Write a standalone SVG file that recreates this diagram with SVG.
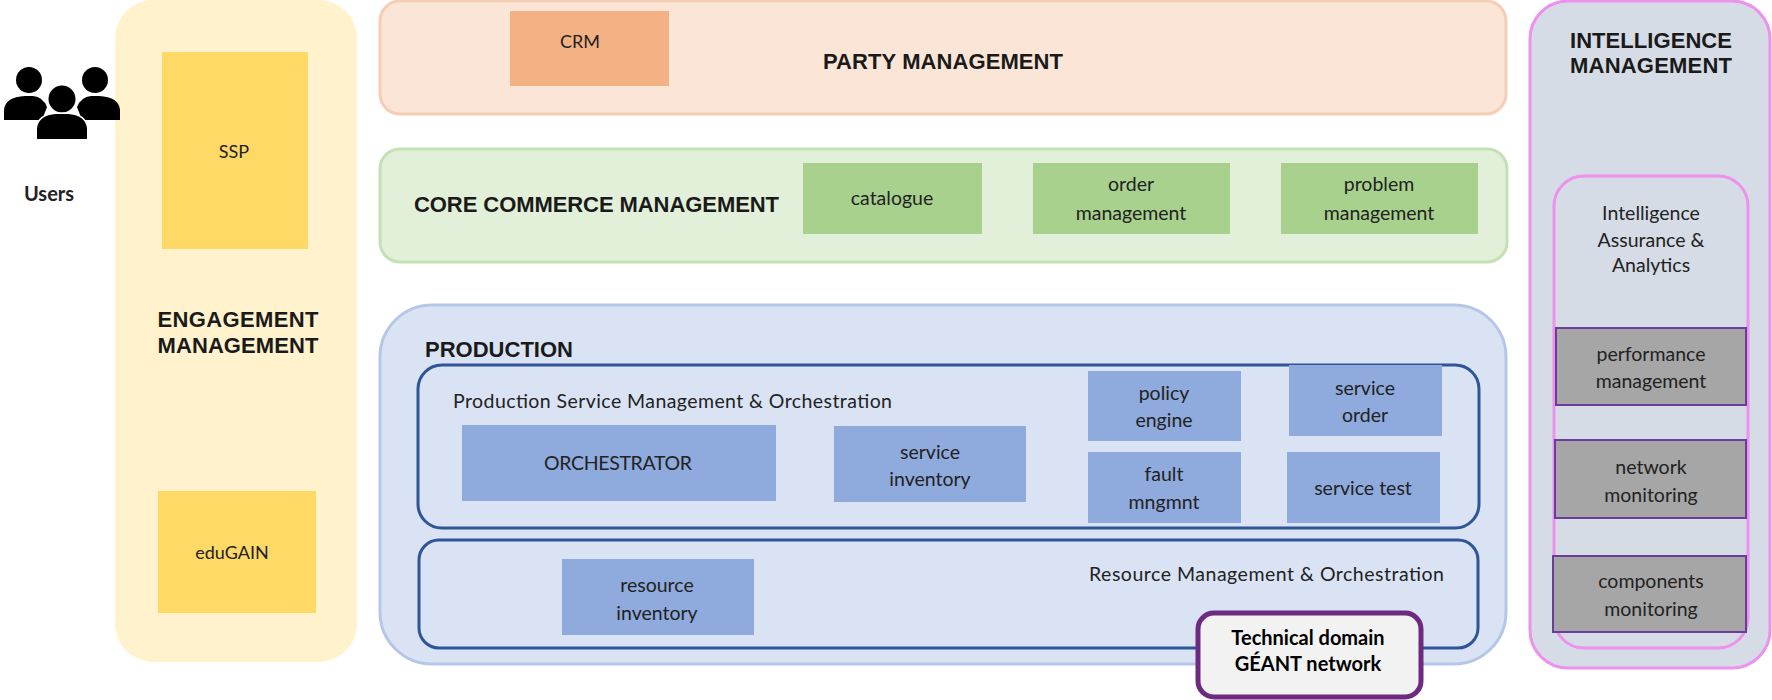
<svg xmlns="http://www.w3.org/2000/svg" width="1772" height="700" viewBox="0 0 1772 700">
<style>
.h{font-family:"Liberation Sans",Arial,sans-serif;font-weight:700;font-size:22px;fill:#1a1a1a}
.t{font-family:Lato,"Open Sans",sans-serif;font-size:19.5px;fill:#222;text-anchor:middle}
.s{font-size:18px}
.m{text-anchor:middle}
.panel{stroke-width:3}
.blue{fill:#8FAADC}
.green{fill:#A9D18E}
.grey{fill:#A6A6A6;stroke:#6A3D9A;stroke-width:2}
.inner{fill:none;stroke:#2F5597;stroke-width:3}
</style>
<rect width="1772" height="700" fill="#fff"/>
<g id="engagement">
<rect x="115" y="0" width="242" height="662" rx="38" fill="#FFF2CC"/>
<text class="h m" x="238" y="327" textLength="161">ENGAGEMENT</text><text class="h m" x="238" y="353" textLength="161">MANAGEMENT</text>
</g>
<g id="users">
<g fill="#000"><circle cx="29" cy="80" r="13"/><circle cx="95" cy="80" r="13"/>
<path d="M4 120V110Q5 97 25 96H33Q43 97 47 107L42 120Z"/>
<path d="M120 120V110Q119 97 99 96H91Q81 97 77 107L82 120Z"/>
<g stroke="#fff" stroke-width="3" paint-order="stroke"><circle cx="62" cy="99" r="13.5"/>
<path d="M37 139V128Q39 115 56 114H68Q85 115 87 128V139Z"/></g></g>
<text class="t" x="49" y="201" style="font-size:20px;font-weight:700">Users</text>
</g>
<g id="ssp"><rect x="162" y="52" width="146" height="197" fill="#FFD966"/><text class="t s" x="234" y="158">SSP</text></g>
<g id="edugain"><rect x="158" y="491" width="158" height="122" fill="#FFD966"/><text class="t s" x="232" y="559">eduGAIN</text></g>
<g id="party">
<rect class="panel" x="380" y="1" width="1126" height="113" rx="20" fill="#FBE5D6" stroke="#F4CFB6"/>
<text class="h" x="823" y="69" textLength="240">PARTY MANAGEMENT</text>
</g>
<g id="crm"><rect x="510" y="11" width="159" height="75" fill="#F4B183"/><text class="t s" x="580" y="48">CRM</text></g>
<g id="core">
<rect class="panel" x="380" y="149" width="1127" height="113" rx="20" fill="#E2F0D9" stroke="#C5E0B4"/>
<text class="h" x="414" y="212" textLength="365">CORE COMMERCE MANAGEMENT</text>
</g>
<g id="catalogue"><rect class="green" x="803" y="163" width="179" height="71"/><text class="t" x="892" y="205">catalogue</text></g>
<g id="order"><rect class="green" x="1033" y="163" width="197" height="71"/><text class="t" x="1131" y="191">order</text><text class="t" x="1131" y="220">management</text></g>
<g id="problem"><rect class="green" x="1281" y="163" width="197" height="71"/><text class="t" x="1379" y="191">problem</text><text class="t" x="1379" y="220">management</text></g>
<g id="production">
<rect class="panel" x="380" y="305" width="1126" height="359" rx="52" fill="#DAE3F3" stroke="#B4C7E7"/>
<text class="h" x="425" y="357" textLength="148">PRODUCTION</text>
</g>
<g id="service-management">
<rect class="inner" x="418" y="365" width="1061" height="163" rx="24"/>
<text class="t" x="453" y="408" textLength="439" style="text-anchor:start">Production Service Management &amp; Orchestration</text>
</g>
<g id="resource-management">
<rect class="inner" x="419" y="540" width="1059" height="108" rx="20"/>
<text class="t" x="1089" y="581" textLength="355" style="text-anchor:start">Resource Management &amp; Orchestration</text>
</g>
<g id="orchestrator"><rect class="blue" x="462" y="425" width="314" height="76"/><text class="t" x="618" y="470" textLength="148">ORCHESTRATOR</text></g>
<g id="service-inventory"><rect class="blue" x="834" y="426" width="192" height="76"/><text class="t" x="930" y="459">service</text><text class="t" x="930" y="486">inventory</text></g>
<g id="policy-engine"><rect class="blue" x="1088" y="371" width="153" height="70"/><text class="t" x="1164" y="400">policy</text><text class="t" x="1164" y="427">engine</text></g>
<g id="service-order"><rect class="blue" x="1289" y="365" width="153" height="71"/><text class="t" x="1365" y="395">service</text><text class="t" x="1365" y="422">order</text></g>
<g id="fault"><rect class="blue" x="1088" y="452" width="153" height="71"/><text class="t" x="1164" y="481">fault</text><text class="t" x="1164" y="509">mngmnt</text></g>
<g id="service-test"><rect class="blue" x="1287" y="452" width="153" height="71"/><text class="t" x="1363" y="495">service test</text></g>
<g id="resource-inventory"><rect class="blue" x="562" y="559" width="192" height="76"/><text class="t" x="657" y="592">resource</text><text class="t" x="657" y="620">inventory</text></g>
<g id="technical-domain">
<rect x="1198" y="613" width="223" height="84" rx="16" fill="#F2F2F2" stroke="#6E2A80" stroke-width="5"/>
<text class="t" x="1308" y="645" style="font-weight:700;font-size:20px;fill:#000">Technical domain</text>
<text class="t" x="1308" y="671" style="font-weight:700;font-size:20px;fill:#000">GÉANT network</text>
</g>
<g id="intelligence">
<rect class="panel" x="1530" y="1" width="240" height="667" rx="38" fill="#D6DCE5" stroke="#EE90EE"/>
<text class="h m" x="1651" y="48" textLength="162">INTELLIGENCE</text><text class="h m" x="1651" y="73" textLength="162">MANAGEMENT</text>
</g>
<g id="assurance">
<rect class="panel" x="1554" y="176" width="194" height="472" rx="30" fill="#D6DCE5" stroke="#EE90EE"/>
<text class="t" x="1651" y="220">Intelligence</text><text class="t" x="1651" y="247">Assurance &amp;</text><text class="t" x="1651" y="272">Analytics</text>
</g>
<g id="performance"><rect class="grey" x="1556" y="328" width="190" height="77"/><text class="t" x="1651" y="361">performance</text><text class="t" x="1651" y="388">management</text></g>
<g id="network"><rect class="grey" x="1555" y="440" width="191" height="78"/><text class="t" x="1651" y="474">network</text><text class="t" x="1651" y="502">monitoring</text></g>
<g id="components"><rect class="grey" x="1553" y="556" width="193" height="76"/><text class="t" x="1651" y="588">components</text><text class="t" x="1651" y="616">monitoring</text></g>
</svg>
